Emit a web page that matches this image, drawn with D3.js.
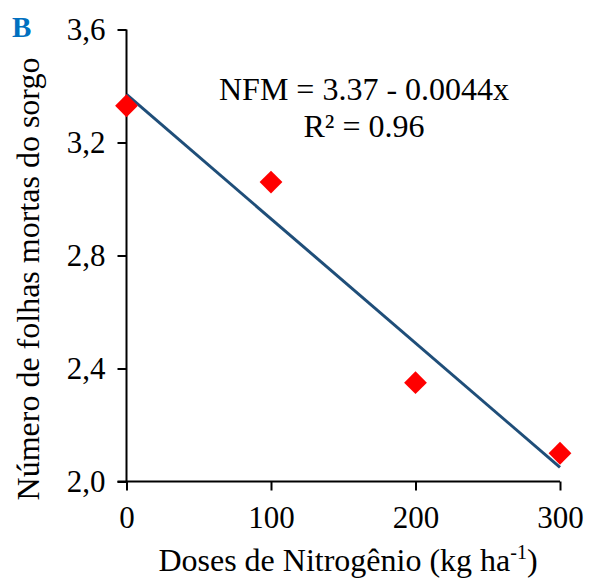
<!DOCTYPE html>
<html><head><meta charset="utf-8">
<script src="https://cdn.jsdelivr.net/npm/d3@7/dist/d3.min.js"></script>
<style>
body{margin:0;background:#fff;}
svg text{font-family:"Times New Roman","Liberation Serif","DejaVu Serif",serif !important;}
</style></head><body>
<svg id="c" width="589" height="580"></svg>
<script>
const doses = [0, 100, 200, 300];
const nfm = [3.33, 3.06, 2.35, 2.10];
const fitIntercept = 3.37, fitSlope = -0.0044;
const xTicks = [0, 100, 200, 300];
const yTicks = [2.0, 2.4, 2.8, 3.2, 3.6];

const svg = d3.select("#c");
const x = d3.scaleLinear().domain([0, 300]).range([126.5, 560]);
const y = d3.scaleLinear().domain([2.0, 3.6]).range([481.5, 29.5]);

const xAxis = d3.axisBottom(x).tickValues(xTicks).tickSize(9).tickPadding(15).tickFormat(d3.format("d"));
const yAxis = d3.axisLeft(y).tickValues(yTicks).tickSize(9).tickPadding(12).tickFormat(d => d.toFixed(1).replace(".", ","));

const gx = svg.append("g").attr("transform", `translate(0,${y(2.0)})`).call(xAxis);
const gy = svg.append("g").attr("transform", `translate(${x(0)},0)`).call(yAxis);
[gx, gy].forEach(g => {
  g.attr("font-family", null);
  g.select(".domain").remove();
  g.selectAll("line").attr("stroke", "#000").attr("stroke-width", 2);
  g.selectAll("text").attr("font-size", 31).attr("fill", "#000");
});
// axis lines
svg.append("line").attr("x1", x(0)).attr("x2", x(0)).attr("y1", y(3.6)).attr("y2", y(2.0)).attr("stroke", "#000").attr("stroke-width", 2);
svg.append("line").attr("x1", x(0) - 9).attr("x2", x(300)).attr("y1", y(2.0)).attr("y2", y(2.0)).attr("stroke", "#000").attr("stroke-width", 2);

// trendline
svg.append("line")
  .attr("x1", x(0)).attr("y1", y(fitIntercept))
  .attr("x2", x(300)).attr("y2", y(fitIntercept + fitSlope * 300))
  .attr("stroke", "#1f4e79").attr("stroke-width", 3);

// points
const diamond = d3.symbol().type(d3.symbolSquare).size(260);
svg.selectAll("path.pt").data(doses.map((d, i) => [d, nfm[i]])).join("path")
  .attr("class", "pt")
  .attr("d", diamond)
  .attr("transform", d => `translate(${x(d[0])},${y(d[1])}) rotate(45)`)
  .attr("fill", "#ff0000");

// equation
svg.append("text").attr("x", 364).attr("y", 100).attr("text-anchor", "middle").attr("font-size", 32).text("NFM = 3.37 - 0.0044x");
svg.append("text").attr("x", 364).attr("y", 137).attr("text-anchor", "middle").attr("font-size", 32).text("R² = 0.96");

// axis titles
const xt = svg.append("text").attr("x", 348).attr("y", 571).attr("text-anchor", "middle").attr("font-size", 32);
xt.append("tspan").text("Doses de Nitrogênio (kg ha");
xt.append("tspan").attr("font-size", 20).attr("dy", -12).text("-1");
xt.append("tspan").attr("dy", 12).text(")");

svg.append("text").attr("transform", "translate(39,279) rotate(-90)").attr("text-anchor", "middle").attr("font-size", 32).text("Número de folhas mortas do sorgo");

svg.append("text").attr("x", 12).attr("y", 37).attr("font-size", 29).attr("font-weight", "bold").attr("fill", "#0070c0").text("B");
</script></body></html>
